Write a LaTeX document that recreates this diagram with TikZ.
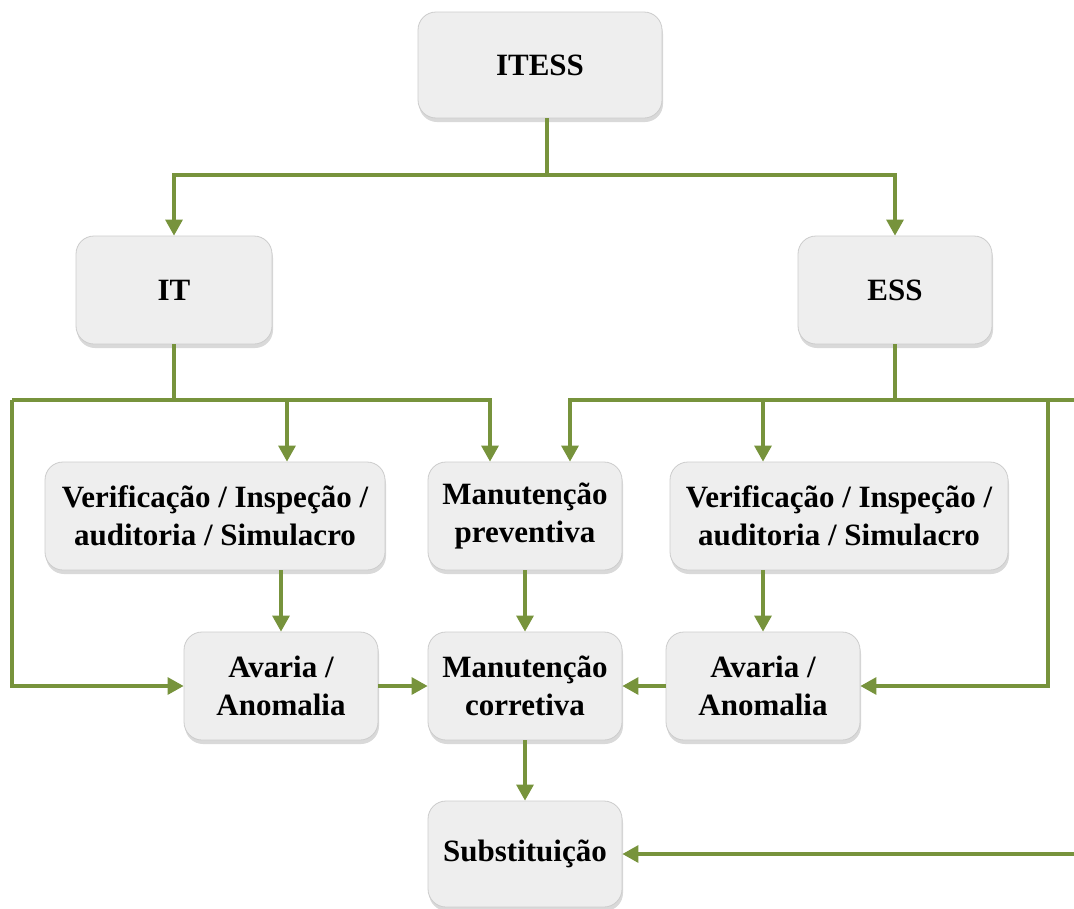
\documentclass[tikz,border=0pt]{standalone}
\usepackage{fontspec}
\setmainfont{Liberation Serif}
\usetikzlibrary{arrows.meta,shadows}
\definecolor{linegreen}{HTML}{77933C}
\definecolor{boxfill}{HTML}{EEEEEE}
\definecolor{boxedge}{HTML}{CCCCCC}
\begin{document}
\begin{tikzpicture}[x=1pt,y=-1pt,
  box/.style={draw=boxedge, line width=0.8pt, fill=boxfill, rounded corners=18pt,
    inner sep=0pt, align=center, font=\bfseries\fontsize{31}{38}\selectfont,
    drop shadow={shadow xshift=1pt, shadow yshift=-4pt, opacity=0.25, fill=black!60}},
  link/.style={draw=linegreen, line width=3.2pt},
  arr/.style={link, -{Triangle[length=16pt,width=17pt]}}]
\useasboundingbox (0,0) rectangle (1074,908);
\clip (0,0) rectangle (1074,908);

% boxes
\node[box, minimum width=244pt, minimum height=106pt] (itess) at (540,65) {ITESS};
\node[box, minimum width=196pt, minimum height=108pt] (it) at (174,290) {IT};
\node[box, minimum width=194pt, minimum height=108pt] (ess) at (895,290) {ESS};
\node[box, minimum width=340pt, minimum height=108pt] (verL) at (215,516) {Verificação / Inspeção /\\auditoria / Simulacro};
\node[box, minimum width=194pt, minimum height=108pt] (prev) at (525,516) {Manutenção\\preventiva};
\node[box, minimum width=338pt, minimum height=108pt] (verR) at (839,516) {Verificação / Inspeção /\\auditoria / Simulacro};
\node[box, minimum width=194pt, minimum height=108pt] (avL) at (281,686) {Avaria /\\Anomalia};
\node[box, minimum width=194pt, minimum height=108pt] (corr) at (525,686) {Manutenção\\corretiva};
\node[box, minimum width=194pt, minimum height=108pt] (avR) at (763,686) {Avaria /\\Anomalia};
\node[box, minimum width=194pt, minimum height=106pt] (subst) at (525,854) {Substituição};

% bus junctions
\coordinate (topbus) at (547,175);
\coordinate (itbus) at (12,400);
\coordinate (essbus) at (1074,400);
\coordinate (essdrop) at (1048,400);
\coordinate (substfeed) at (1074,854);

% ITESS to IT and ESS
\draw[link] (itess.south -| topbus) -- (topbus);
\draw[arr] (topbus) -| (it.north);
\draw[arr] (topbus) -| (ess.north);

% IT branches
\draw[link] (it.south) -- (it.south |- itbus);
\draw[arr] (itbus) -| ([xshift=-35pt]prev.north);
\draw[arr] ([xshift=6pt]avL.north |- itbus) -- ([xshift=6pt]avL.north |- verL.north);
\draw[arr] (itbus) |- (avL.west);

% ESS branches
\draw[link] (ess.south) -- (ess.south |- essbus);
\draw[arr] (essbus) -| ([xshift=45pt]prev.north);
\draw[arr] (avR.north |- essbus) -- (avR.north |- verR.north);
\draw[arr] (essdrop) |- (avR.east);

% lower flow
\draw[arr] (avL.north |- verL.south) -- (avL.north);
\draw[arr] (avR.north |- verR.south) -- (avR.north);
\draw[arr] (prev) -- (corr);
\draw[arr] (avL) -- (corr);
\draw[arr] (avR) -- (corr);
\draw[arr] (corr) -- (subst);
\draw[arr] (subst.east -| substfeed) -- (subst.east);
\end{tikzpicture}
\end{document}
